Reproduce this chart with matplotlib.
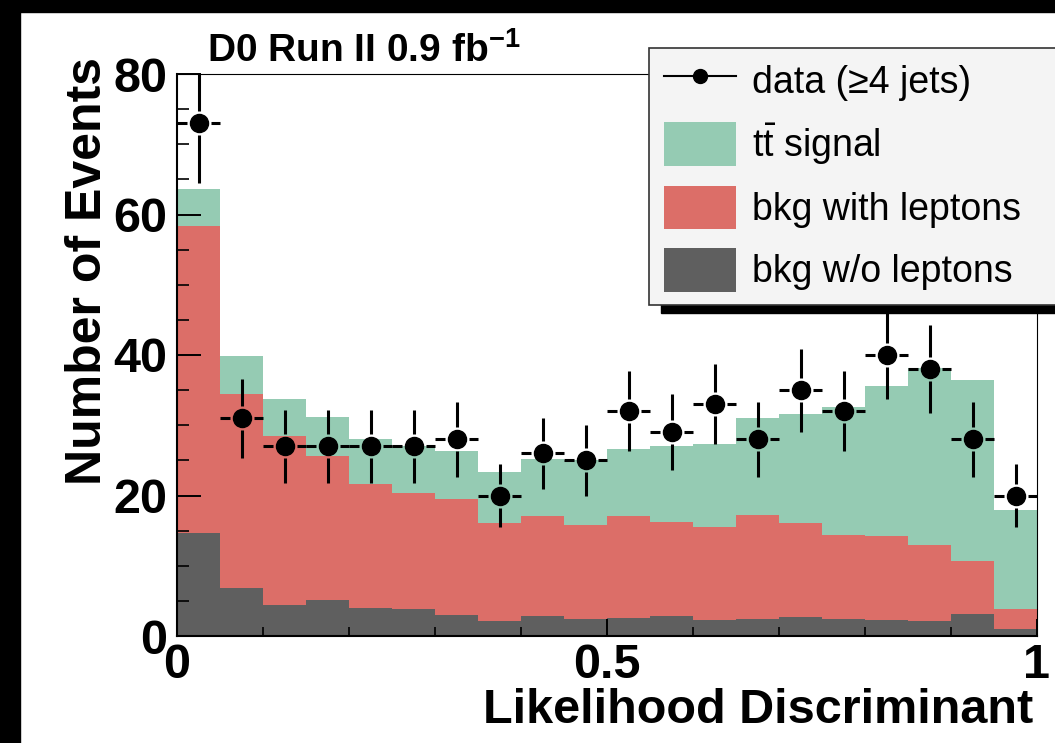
import numpy as np
import matplotlib.pyplot as plt
from matplotlib.patches import Rectangle, Patch
from matplotlib.lines import Line2D
from matplotlib.ticker import MultipleLocator, FixedLocator

plt.rcParams['font.family'] = ['Liberation Sans', 'DejaVu Sans']
plt.rcParams['mathtext.fontset'] = 'custom'
plt.rcParams['mathtext.rm'] = 'Liberation Sans'
plt.rcParams['mathtext.bf'] = 'Liberation Sans:bold'
plt.rcParams['mathtext.it'] = 'Liberation Sans:italic'

# 20 bins of the likelihood discriminant
edges = np.linspace(0, 1, 21)
data = [73, 31, 27, 27, 27, 27, 28, 20, 26, 25, 32, 29, 33, 28, 35, 32, 40, 38, 28, 20]
data_err = [8.5, 5.6, 5.2, 5.2, 5.2, 5.2, 5.3, 4.5, 5.1, 5.0, 5.7, 5.4, 5.7, 5.3, 5.9, 5.7, 6.3, 6.2, 5.3, 4.5]
bkg_nolep = [14.6, 6.9, 4.4, 5.1, 4.0, 3.8, 3.0, 2.1, 2.8, 2.4, 2.5, 2.8, 2.3, 2.4, 2.7, 2.4, 2.3, 2.1, 3.1, 1.0]
bkg_lep = [43.7, 27.5, 24.0, 20.5, 17.7, 16.5, 16.5, 14.0, 14.3, 13.4, 14.6, 13.4, 13.2, 14.8, 13.4, 12.0, 11.9, 10.9, 7.6, 2.8]
ttbar = [5.3, 5.5, 5.4, 5.6, 6.3, 6.7, 6.9, 7.3, 8.1, 9.2, 9.5, 10.8, 11.9, 13.8, 15.5, 18.2, 21.4, 25.1, 25.8, 14.2]

c_sig = '#95cbb3'
c_lep = '#dc6e68'
c_nolep = '#5f5f5f'

W, H = 1055, 743
def fx(px): return px / W
def fy(py): return 1 - py / H

fig = plt.figure(figsize=(W / 100, H / 100), dpi=100)
ax = fig.add_axes([fx(177), fy(636), 860 / W, 562 / H])

lvl0 = np.array(bkg_nolep)
lvl1 = lvl0 + np.array(bkg_lep)
lvl2 = lvl1 + np.array(ttbar)
ax.stairs(lvl0, edges, baseline=0, fill=True, color=c_nolep, lw=0)
ax.stairs(lvl1, edges, baseline=lvl0, fill=True, color=c_lep, lw=0)
ax.stairs(lvl2, edges, baseline=lvl1, fill=True, color=c_sig, lw=0)

# data with root-style error bars (gap around marker)
centers = (edges[:-1] + edges[1:]) / 2
d = np.array(data, float)
e = np.array(data_err)
gx = 12 / 860
gy = 12 / (562 / 80)
lw = 2.2
ax.vlines(centers, d + gy, d + e, color='k', lw=lw, zorder=4)
ax.vlines(centers, d - e, d - gy, color='k', lw=lw, zorder=4)
ax.hlines(d, edges[:-1], centers - gx, color='k', lw=lw, zorder=4)
ax.hlines(d, centers + gx, edges[1:], color='k', lw=lw, zorder=4)
ax.plot(centers, d, 'o', color='k', ms=13, zorder=5)

ax.set_xlim(0, 1)
ax.set_ylim(0, 80)
ax.xaxis.set_major_locator(FixedLocator([0, 0.5, 1]))
ax.xaxis.set_minor_locator(MultipleLocator(0.1))
ax.yaxis.set_major_locator(MultipleLocator(20))
ax.yaxis.set_minor_locator(MultipleLocator(5))
ax.set_xticklabels(['0', '0.5', '1'])
ax.tick_params(which='both', direction='in', top=False, right=False, labelsize=35)
ax.tick_params(axis='y', which='major', length=17, width=1.4, pad=7)
ax.tick_params(axis='y', which='minor', length=8.5, width=1.2)
ax.tick_params(axis='x', which='major', length=12, width=1.4, pad=5)
ax.tick_params(axis='x', which='minor', length=6.5, width=1.2)
for lbl in ax.get_xticklabels() + ax.get_yticklabels():
    lbl.set_fontweight('bold')
for s in ['left', 'bottom']:
    ax.spines[s].set_linewidth(1.5)
for s in ['top', 'right']:
    ax.spines[s].set_linewidth(0.8)

fig.text(fx(207), fy(62), r'D0 Run II 0.9 fb$^{\mathbf{-1}}$', fontsize=28,
         fontweight='bold', ha='left', va='baseline')
fig.text(fx(88), fy(57), 'Number of Events', rotation=90, fontsize=36,
         fontweight='bold', ha='center', va='top')
fig.text(fx(1033), fy(723), 'Likelihood Discriminant', fontsize=35,
         fontweight='bold', ha='right', va='baseline')

# legend frame with black shadow, running off the right edge
fig.add_artist(Rectangle((fx(661), fy(313)), 0.5, (313 - 60) / H,
                         transform=fig.transFigure, color='k', zorder=3))
fig.add_artist(Rectangle((fx(649), fy(305)), 0.5, (305 - 48) / H,
                         transform=fig.transFigure, facecolor='#f4f4f4',
                         edgecolor='#333333', lw=1.2, zorder=3.5))
handles = [Line2D([], [], color='k', marker='o', ms=10, lw=1.5),
           Patch(facecolor=c_sig, edgecolor='none'),
           Patch(facecolor=c_lep, edgecolor='none'),
           Patch(facecolor=c_nolep, edgecolor='none')]
labels = [u'data (\u22654 jets)', r'$\mathrm{t\bar{t}}$ signal',
          'bkg with leptons', 'bkg w/o leptons']
fig.legend(handles, labels, loc='upper left', bbox_to_anchor=(fx(664), fy(59)),
           frameon=False, borderpad=0, borderaxespad=0, fontsize=27,
           handlelength=1.92, handleheight=1.42, handletextpad=0.43,
           labelspacing=0.5)

# black frame on the left and top edge
fig.add_artist(Rectangle((0, 0), fx(20), 1, transform=fig.transFigure,
                         color='k', zorder=10))
fig.add_artist(Rectangle((0, fy(12)), 1, 12 / H, transform=fig.transFigure,
                         color='k', zorder=10))

fig.savefig('out.png', dpi=100)
